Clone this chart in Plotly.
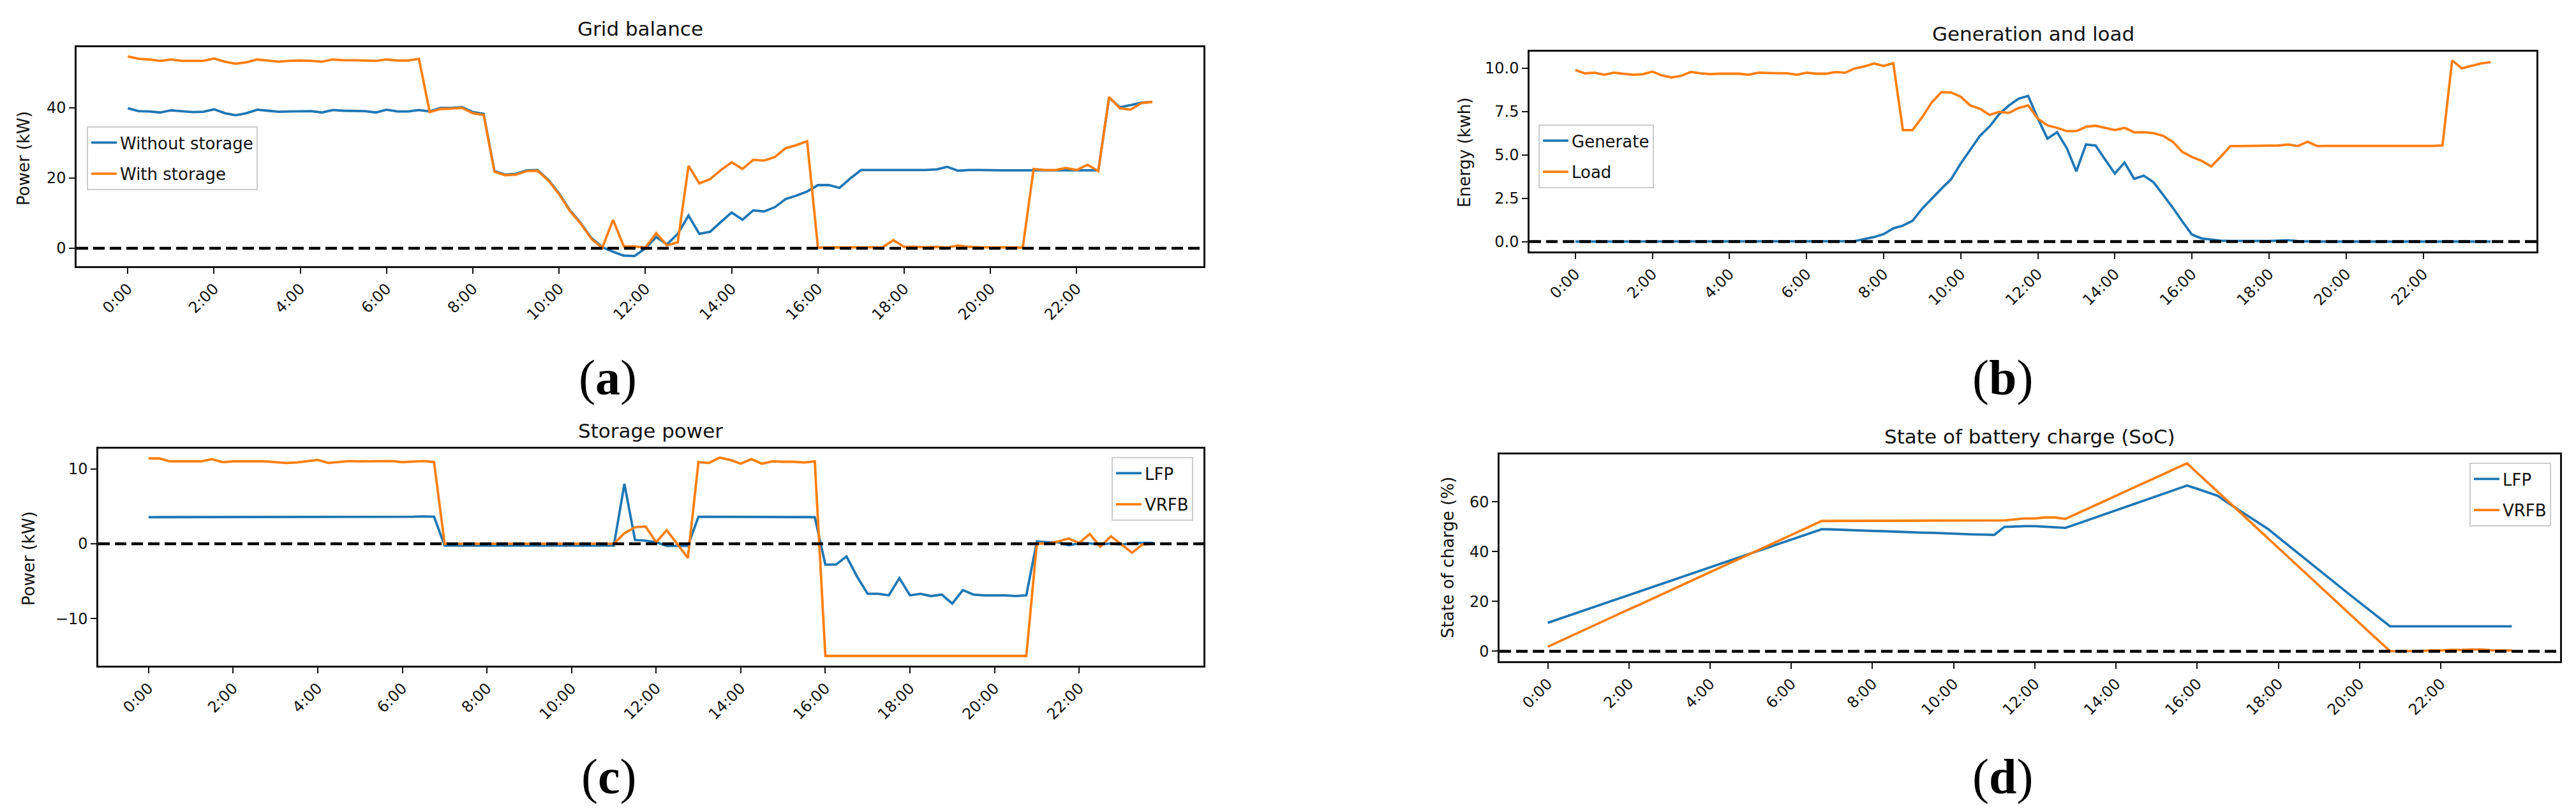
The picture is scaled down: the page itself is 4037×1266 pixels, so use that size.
import plotly.graph_objects as go

# ---------------- data (15-min resolution, 96 steps) ----------------
times = [f"{h}:{m:02d}" for h in range(24) for m in (0, 15, 30, 45)]
tick_labels = ["0:00", "2:00", "4:00", "6:00", "8:00", "10:00",
               "12:00", "14:00", "16:00", "18:00", "20:00", "22:00"]

grid_without = [39.9, 39.1, 39.0, 38.7, 39.3, 39.0, 38.8, 38.9, 39.6, 38.5,
                37.9, 38.5, 39.5, 39.2, 38.9, 39.0, 39.1, 39.1, 38.7, 39.4,
                39.2, 39.2, 39.1, 38.7, 39.5, 39.0, 39.0, 39.4, 39.0, 40.0,
                40.0, 40.2, 38.8, 38.3, 22.0, 21.0, 21.2, 22.2, 22.3, 19.5,
                15.6, 10.8, 7.2, 2.9, 0.3, -1.0, -2.1, -2.2, 0.0, 3.2,
                1.1, 4.1, 9.3, 4.1, 4.7, 7.5, 10.2, 8.1, 10.8, 10.5,
                11.7, 14.0, 15.0, 16.2, 18.0, 18.0, 17.2, 19.9, 22.3, 22.3,
                22.3, 22.2, 22.3, 22.3, 22.3, 22.5, 23.2, 22.1, 22.3, 22.3,
                22.2, 22.2, 22.2, 22.2, 22.2, 22.2, 22.2, 22.2, 22.2, 22.2,
                22.2, 42.9, 40.2, 40.8, 41.5, 41.7]

grid_with = [54.7, 54.0, 53.8, 53.4, 53.8, 53.4, 53.4, 53.4, 54.1, 53.2,
             52.6, 53.0, 53.8, 53.5, 53.2, 53.4, 53.5, 53.4, 53.2, 53.8,
             53.6, 53.6, 53.5, 53.4, 53.8, 53.5, 53.5, 54.0, 38.8, 39.7,
             39.8, 40.0, 38.5, 38.0, 21.8, 20.8, 21.0, 22.0, 22.1, 19.3,
             15.4, 10.6, 7.0, 2.7, 0.1, 8.1, 0.5, 0.5, 0.2, 4.3,
             0.8, 1.7, 23.5, 18.5, 19.7, 22.3, 24.5, 22.6, 25.2, 25.0,
             26.0, 28.5, 29.4, 30.5, 0.2, 0.2, 0.3, 0.3, 0.3, 0.3,
             0.3, 2.3, 0.4, 0.4, 0.3, 0.4, 0.2, 0.8, 0.4, 0.3,
             0.3, 0.3, 0.2, 0.2, 22.6, 22.3, 22.3, 22.9, 22.3, 23.8,
             22.0, 43.1, 39.9, 39.5, 41.4, 41.7]

generate = [0.0, 0.0, 0.0, 0.0, 0.0, 0.0, 0.0, 0.0, 0.0, 0.0,
            0.0, 0.0, 0.0, 0.0, 0.0, 0.0, 0.0, 0.0, 0.0, 0.0,
            0.0, 0.0, 0.0, 0.0, 0.0, 0.0, 0.0, 0.0, 0.0, 0.02,
            0.14, 0.26, 0.43, 0.76, 0.92, 1.2, 1.9, 2.5, 3.05, 3.6,
            4.5, 5.3, 6.1, 6.64, 7.35, 7.85, 8.24, 8.4, 7.1, 5.94,
            6.31, 5.4, 4.05, 5.6, 5.54, 4.72, 3.92, 4.56, 3.62, 3.8,
            3.43, 2.7, 1.96, 1.16, 0.4, 0.18, 0.1, 0.05, 0.03, 0.02,
            0.02, 0.03, 0.03, 0.05, 0.08, 0.02, 0.0, 0.0, 0.0, 0.0,
            0.0, 0.0, 0.0, 0.0, 0.0, 0.0, 0.0, 0.0, 0.0, 0.0,
            0.0, 0.0, 0.0, 0.0, 0.0, 0.0]

load = [9.89, 9.70, 9.74, 9.62, 9.74, 9.68, 9.62, 9.65, 9.80, 9.58,
        9.46, 9.56, 9.78, 9.70, 9.66, 9.68, 9.68, 9.68, 9.62, 9.74,
        9.72, 9.72, 9.70, 9.62, 9.74, 9.68, 9.68, 9.78, 9.74, 9.98,
        10.10, 10.27, 10.13, 10.29, 6.43, 6.43, 7.17, 8.03, 8.62, 8.60,
        8.35, 7.85, 7.66, 7.30, 7.48, 7.42, 7.70, 7.85, 7.09, 6.70,
        6.56, 6.37, 6.37, 6.62, 6.68, 6.56, 6.43, 6.56, 6.30, 6.31,
        6.25, 6.10, 5.76, 5.17, 4.88, 4.66, 4.33, 4.90, 5.51, 5.51,
        5.51, 5.51, 5.54, 5.54, 5.60, 5.51, 5.76, 5.51, 5.52, 5.52,
        5.52, 5.52, 5.52, 5.52, 5.52, 5.51, 5.50, 5.49, 5.52, 5.52,
        5.54, 10.45, 9.99, 10.13, 10.27, 10.35]

lfp_power = [3.55, 3.55, 3.55, 3.55, 3.55, 3.55, 3.55, 3.55, 3.55, 3.55,
             3.55, 3.55, 3.55, 3.55, 3.55, 3.55, 3.55, 3.55, 3.55, 3.55,
             3.55, 3.55, 3.55, 3.55, 3.55, 3.6, 3.65, 3.6, -0.25, -0.25,
             -0.25, -0.25, -0.25, -0.25, -0.25, -0.25, -0.25, -0.25, -0.25, -0.25,
             -0.25, -0.25, -0.25, -0.25, -0.25, 8.0, 0.5, 0.4, 0.2, -0.3,
             -0.3, -0.3, 3.6, 3.6, 3.6, 3.55, 3.6, 3.6, 3.6, 3.55,
             3.55, 3.55, 3.55, 3.55, -2.8, -2.8, -1.7, -4.4, -6.7, -6.7,
             -6.9, -4.6, -6.9, -6.7, -7.0, -6.8, -8.0, -6.2, -6.8, -6.9,
             -6.9, -6.9, -7.0, -6.9, 0.3, 0.2, 0.2, -0.2, 0.05, 0.05,
             -0.1, 0.05, -0.1, 0.05, 0.1, 0.1]

vrfb_power = [11.4, 11.4, 11.0, 11.0, 11.0, 11.0, 11.3, 10.9, 11.0, 11.0,
              11.05, 11.0, 10.9, 10.8, 10.85, 11.0, 11.2, 10.8, 10.9, 11.05,
              11.0, 11.0, 11.0, 11.05, 10.9, 11.0, 11.05, 10.9, 0.0, 0.0,
              0.0, 0.0, 0.0, 0.0, 0.0, 0.0, 0.0, 0.0, 0.0, 0.0,
              0.0, 0.0, 0.0, 0.0, 0.0, 1.4, 2.2, 2.3, 0.2, 1.8,
              -0.1, -1.9, 10.9, 10.8, 11.5, 11.2, 10.7, 11.3, 10.7, 11.0,
              10.95, 10.95, 10.85, 11.0, -15.0, -15.0, -15.0, -15.0, -15.0, -15.0,
              -15.0, -15.0, -15.0, -15.0, -15.0, -15.0, -15.0, -15.0, -15.0, -15.0,
              -15.0, -15.0, -15.0, -15.0, 0.05, 0.0, 0.3, 0.7, 0.1, 1.3,
              -0.4, 1.0, -0.1, -1.2, -0.1, 0.0]

lfp_soc = [11.4, 12.8, 14.2, 15.6, 17.0, 18.4, 19.8, 21.2, 22.5, 23.9,
           25.3, 26.7, 28.1, 29.5, 30.9, 32.3, 33.7, 35.1, 36.5, 37.9,
           39.3, 40.7, 42.0, 43.4, 44.8, 46.2, 47.6, 49.0, 48.9, 48.7,
           48.6, 48.4, 48.3, 48.2, 48.0, 47.9, 47.7, 47.6, 47.5, 47.3,
           47.2, 47.1, 46.9, 46.8, 46.7, 49.9, 50.1, 50.2, 50.2, 50.0,
           49.8, 49.5, 50.9, 52.3, 53.8, 55.2, 56.6, 58.0, 59.5, 60.9,
           62.3, 63.7, 65.1, 66.5, 65.2, 63.9, 62.4, 59.6, 56.9, 54.3,
           51.6, 49.0, 45.7, 42.4, 39.0, 35.7, 32.4, 29.2, 26.0, 22.8,
           19.6, 16.4, 13.2, 10.0, 10.0, 10.0, 10.0, 10.0, 10.0, 10.0,
           10.0, 10.0, 10.0, 10.0, 10.0, 10.0]

vrfb_soc = [1.8, 3.7, 5.5, 7.4, 9.3, 11.2, 13.0, 14.9, 16.8, 18.6,
            20.5, 22.4, 24.2, 26.1, 28.0, 29.9, 31.7, 33.6, 35.5, 37.3,
            39.2, 41.1, 42.9, 44.8, 46.7, 48.6, 50.4, 52.3, 52.3, 52.3,
            52.3, 52.3, 52.3, 52.3, 52.3, 52.3, 52.3, 52.3, 52.3, 52.3,
            52.3, 52.3, 52.3, 52.3, 52.3, 52.5, 52.9, 53.3, 53.3, 53.7,
            53.7, 53.1, 55.0, 56.8, 58.7, 60.5, 62.4, 64.3, 66.1, 68.0,
            69.8, 71.7, 73.6, 75.4, 71.6, 67.9, 64.1, 60.3, 56.6, 52.8,
            49.0, 45.2, 41.5, 37.7, 33.9, 30.2, 26.4, 22.6, 18.9, 15.1,
            11.3, 7.5, 3.8, 0.0, 0.0, 0.0, 0.1, 0.3, 0.3, 0.6,
            0.5, 0.7, 0.7, 0.4, 0.3, 0.3]

# ---------------- styling ----------------
W, H = 4037, 1266
BLUE = "#1f77b4"
ORANGE = "#ff7f0e"
SANS = "DejaVu Sans"
SERIF = "Liberation Serif"
LW = 3.8


def px_x(p):
    return p / W


def px_y(p):
    return 1 - p / H


fig = go.Figure()


def add_line(x, y, name, color, ax, legend):
    fig.add_trace(go.Scatter(
        x=x, y=y, mode="lines", name=name,
        line=dict(color=color, width=LW),
        xaxis="x" + ("" if ax == 1 else str(ax)),
        yaxis="y" + ("" if ax == 1 else str(ax)),
        legend=legend, legendgroup=f"{legend}-{name}",
    ))


add_line(times, grid_without, "Without storage", BLUE, 1, "legend")
add_line(times, grid_with, "With storage", ORANGE, 1, "legend")
add_line(times, generate, "Generate", BLUE, 2, "legend2")
add_line(times, load, "Load", ORANGE, 2, "legend2")
add_line(times, lfp_power, "LFP", BLUE, 3, "legend3")
add_line(times, vrfb_power, "VRFB", ORANGE, 3, "legend3")
add_line(times, lfp_soc, "LFP", BLUE, 4, "legend4")
add_line(times, vrfb_soc, "VRFB", ORANGE, 4, "legend4")

axis_common = dict(
    showline=True, mirror=True, linecolor="#111111", linewidth=2.5,
    ticks="outside", ticklen=9, tickwidth=2, tickcolor="#111111",
    showgrid=False, zeroline=False,
    tickfont=dict(family=SANS, size=24, color="#111111"),
)

x_common = dict(axis_common, type="category", range=[-4.75, 99.75],
                tickmode="array", tickvals=tick_labels, ticktext=tick_labels,
                tickangle=-45)

domains = {
    1: ([px_x(112), px_x(1878)], [px_y(409), px_y(66)]),
    2: ([px_x(2389), px_x(3967)], [px_y(386), px_y(73)]),
    3: ([px_x(146), px_x(1878)], [px_y(1035), px_y(695)]),
    4: ([px_x(2342), px_x(4004)], [px_y(1028), px_y(704)]),
}
y_settings = {
    1: dict(range=[-5.1, 57.3], tickvals=[0, 20, 40]),
    2: dict(range=[-0.57, 10.95], tickvals=[0, 2.5, 5, 7.5, 10], tickformat=".1f"),
    3: dict(range=[-16.3, 12.7], tickvals=[-10, 0, 10]),
    4: dict(range=[-4.0, 79.0], tickvals=[0, 20, 40, 60]),
}

layout_axes = {}
for k in (1, 2, 3, 4):
    sx = "" if k == 1 else str(k)
    xd, yd = domains[k]
    layout_axes["xaxis" + sx] = dict(x_common, domain=xd, anchor="y" + sx)
    layout_axes["yaxis" + sx] = dict(axis_common, domain=yd, anchor="x" + sx,
                                     tickmode="array", **y_settings[k])

legend_common = dict(
    bgcolor="rgba(255,255,255,0.85)", bordercolor="#cccccc", borderwidth=2,
    font=dict(family=SANS, size=26, color="#111111"),
    tracegroupgap=12, itemwidth=40,
)

fig.update_layout(
    width=W, height=H,
    margin=dict(l=0, r=0, t=0, b=0),
    paper_bgcolor="white", plot_bgcolor="white",
    showlegend=True,
    legend=dict(legend_common, x=px_x(128), y=px_y(190), xanchor="left", yanchor="top"),
    legend2=dict(legend_common, x=px_x(2403), y=px_y(187), xanchor="left", yanchor="top"),
    legend3=dict(legend_common, x=px_x(1862), y=px_y(708), xanchor="right", yanchor="top"),
    legend4=dict(legend_common, x=px_x(3990), y=px_y(717), xanchor="right", yanchor="top"),
    **layout_axes,
)

# dashed zero lines
for k in (1, 2, 3, 4):
    sx = "" if k == 1 else str(k)
    fig.add_shape(type="line", xref=f"x{sx} domain", yref=f"y{sx}",
                  x0=0, x1=1, y0=0, y1=0, layer="above",
                  line=dict(color="black", width=4.5, dash="18px,8px"))

# titles
titles = [("Grid balance", 995, 37), ("Generation and load", 3178, 45),
          ("Storage power", 1012, 667), ("State of battery charge (SoC)", 3173, 676)]
for txt, cx, cy in titles:
    fig.add_annotation(text=txt, x=px_x(cx), y=px_y(cy), xref="paper", yref="paper",
                       xanchor="center", yanchor="middle", showarrow=False,
                       font=dict(family=SANS, size=31, color="#111111"))

# y-axis labels
ylabels = [("Power (kW)", 29, 240), ("Energy (kwh)", 2287, 231),
           ("Power (kW)", 37, 867), ("State of charge (%)", 2261, 866)]
for txt, cx, cy in ylabels:
    fig.add_annotation(text=txt, x=px_x(cx), y=px_y(cy), xref="paper", yref="paper",
                       xanchor="center", yanchor="middle", showarrow=False,
                       textangle=-90,
                       font=dict(family=SANS, size=26, color="#111111"))

# panel letters
letters = [("a", 944, 583), ("b", 3130, 583), ("c", 946, 1208), ("d", 3130, 1208)]
for ch, cx, cy in letters:
    fig.add_annotation(text=f"(<b>{ch}</b>)", x=px_x(cx), y=px_y(cy),
                       xref="paper", yref="paper", xanchor="center", yanchor="middle",
                       showarrow=False,
                       font=dict(family=SERIF, size=78, color="black"))

fig.write_html("out.html")
